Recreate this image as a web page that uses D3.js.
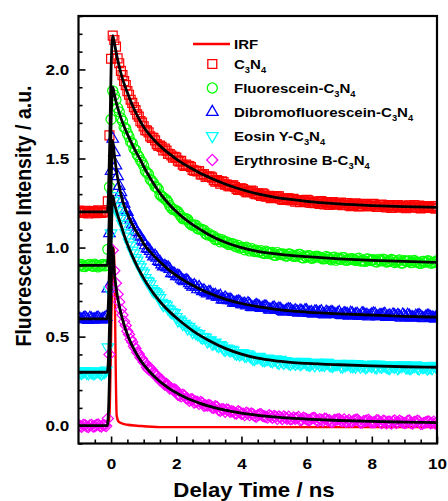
<!DOCTYPE html>
<html><head><meta charset="utf-8">
<script src="https://cdn.jsdelivr.net/npm/d3@7"></script>
<style>
body{margin:0;background:#fff}
svg{display:block}
text{font-family:"Liberation Sans",Arial,Helvetica,sans-serif;font-weight:bold;fill:#000}
</style>
</head><body>
<svg id="c" width="448" height="501"></svg>
<script>
// ---------- DATA ----------
const times = [-1,-0.95,-0.9,-0.85,-0.8,-0.75,-0.7,-0.65,-0.6,-0.55,-0.5,-0.45,-0.4,-0.35,-0.3,-0.25,-0.2,-0.15,-0.1,-0.05,
0,0.05,0.1,0.15,0.2,0.25,0.3,0.35,0.4,0.45,0.5,0.55,0.6,0.65,0.7,0.75,0.8,0.85,0.9,0.95,1,
1.05,1.1,1.15,1.2,1.25,1.3,1.35,1.4,1.45,1.5,
1.55,1.6,1.65,1.7,1.75,1.8,1.85,1.9,1.95,2,
2.05,2.1,2.15,2.2,2.25,2.3,2.35,2.4,2.45,2.5,
2.55,2.6,2.65,2.7,2.75,2.8,2.85,2.9,2.95,3,
3.05,3.1,3.15,3.2,3.25,3.3,3.35,3.4,3.45,3.5,
3.55,3.6,3.65,3.7,3.75,3.8,3.85,3.9,3.95,4,
4.05,4.1,4.15,4.2,4.25,4.3,4.35,4.4,4.45,4.5,
4.55,4.6,4.65,4.7,4.75,4.8,4.85,4.9,4.95,5,
5.05,5.1,5.15,5.2,5.25,5.3,5.35,5.4,5.45,5.5,
5.55,5.6,5.65,5.7,5.75,5.8,5.85,5.9,5.95,6,
6.05,6.1,6.15,6.2,6.25,6.3,6.35,6.4,6.45,6.5,
6.55,6.6,6.65,6.7,6.75,6.8,6.85,6.9,6.95,7,
7.05,7.1,7.15,7.2,7.25,7.3,7.35,7.4,7.45,7.5,
7.55,7.6,7.65,7.7,7.75,7.8,7.85,7.9,7.95,8,
8.05,8.1,8.15,8.2,8.25,8.3,8.35,8.4,8.45,8.5,
8.55,8.6,8.65,8.7,8.75,8.8,8.85,8.9,8.95,9,
9.05,9.1,9.15,9.2,9.25,9.3,9.35,9.4,9.45,9.5,
9.55,9.6,9.65,9.7,9.75,9.8,9.85,9.9,9.95,10];

const dataC3N4 = [1.207,1.201,1.196,1.195,1.203,1.206,1.192,1.197,1.205,1.203,1.199,1.193,1.209,1.204,1.194,1.199,1.202,1.198,1.26,1.63,
2.06,2.19,2.165,2.128,2.062,2.035,1.992,1.968,1.935,1.912,1.878,1.858,1.83,1.812,1.788,1.772,1.748,1.735,1.71,1.701,1.68,
1.659,1.657,1.647,1.624,1.616,1.616,1.602,1.581,1.571,1.572,
1.565,1.545,1.556,1.544,1.526,1.525,1.517,1.504,1.509,1.505,
1.488,1.482,1.487,1.465,1.459,1.466,1.459,1.458,1.452,1.436,
1.432,1.431,1.427,1.430,1.410,1.410,1.412,1.396,1.398,1.398,
1.398,1.393,1.378,1.370,1.379,1.373,1.359,1.372,1.367,1.353,
1.354,1.344,1.344,1.349,1.349,1.340,1.329,1.324,1.331,1.333,
1.329,1.320,1.311,1.311,1.315,1.320,1.316,1.303,1.300,1.305,
1.297,1.290,1.304,1.299,1.285,1.289,1.291,1.277,1.280,1.286,
1.286,1.288,1.287,1.275,1.269,1.268,1.273,1.277,1.277,1.266,
1.266,1.274,1.257,1.266,1.266,1.255,1.267,1.263,1.259,1.268,
1.265,1.252,1.252,1.252,1.249,1.260,1.256,1.245,1.261,1.255,
1.242,1.249,1.250,1.239,1.252,1.255,1.245,1.245,1.241,1.248,
1.253,1.238,1.241,1.250,1.249,1.238,1.233,1.243,1.241,1.249,
1.243,1.231,1.233,1.236,1.245,1.243,1.237,1.232,1.233,1.242,
1.245,1.236,1.228,1.228,1.237,1.242,1.239,1.230,1.225,1.237,
1.234,1.223,1.238,1.235,1.230,1.238,1.226,1.225,1.235,1.230,
1.221,1.235,1.237,1.225,1.229,1.238,1.226,1.226,1.236,1.220,
1.222,1.233,1.230,1.229,1.226,1.222,1.232,1.233,1.219,1.225];

const dataFluorescein = [0.896,0.903,0.905,0.894,0.893,0.899,0.902,0.906,0.898,0.895,0.907,0.9,0.891,0.897,0.903,0.905,0.897,0.902,0.99,1.34,
1.72,1.88,1.855,1.83,1.784,1.762,1.728,1.71,1.675,1.668,1.64,1.622,1.594,1.585,1.556,1.548,1.522,1.51,1.49,1.478,1.46,
1.430,1.420,1.412,1.383,1.375,1.363,1.343,1.338,1.327,1.297,
1.288,1.283,1.273,1.268,1.255,1.235,1.222,1.214,1.212,1.207,
1.201,1.187,1.174,1.162,1.161,1.162,1.158,1.141,1.130,1.124,
1.126,1.126,1.107,1.103,1.105,1.099,1.098,1.078,1.072,1.078,
1.067,1.062,1.064,1.044,1.046,1.048,1.032,1.045,1.036,1.028,
1.032,1.017,1.019,1.022,1.021,1.007,1.004,1.012,0.997,1.001,
1.001,0.987,1.002,0.993,0.981,0.996,0.986,0.978,0.985,0.976,
0.976,0.982,0.970,0.966,0.980,0.974,0.966,0.968,0.973,0.957,
0.956,0.972,0.963,0.961,0.964,0.963,0.953,0.952,0.964,0.963,
0.955,0.951,0.950,0.955,0.962,0.961,0.944,0.942,0.952,0.947,
0.954,0.953,0.940,0.942,0.948,0.952,0.951,0.945,0.942,0.936,
0.938,0.950,0.945,0.937,0.931,0.943,0.946,0.929,0.938,0.940,
0.934,0.943,0.944,0.929,0.929,0.934,0.937,0.938,0.932,0.928,
0.937,0.940,0.924,0.928,0.925,0.922,0.937,0.935,0.927,0.930,
0.932,0.922,0.919,0.934,0.930,0.925,0.935,0.931,0.919,0.921,
0.925,0.933,0.929,0.916,0.920,0.925,0.931,0.913,0.913,0.927,
0.924,0.922,0.927,0.915,0.917,0.928,0.921,0.917,0.913,0.911,
0.923,0.923,0.918,0.925,0.925,0.913,0.913,0.917,0.920,0.926];

const dataDibromo = [0.604,0.598,0.596,0.603,0.607,0.599,0.593,0.605,0.601,0.596,0.597,0.603,0.606,0.598,0.594,0.6,0.602,0.61,0.77,1.08,
1.43,1.61,1.535,1.46,1.4,1.345,1.31,1.27,1.245,1.212,1.2,1.168,1.155,1.13,1.118,1.095,1.086,1.066,1.06,1.04,1.032,
1.012,0.994,0.992,0.980,0.965,0.949,0.954,0.943,0.924,0.919,
0.905,0.893,0.897,0.889,0.888,0.879,0.856,0.855,0.852,0.838,
0.842,0.837,0.824,0.816,0.810,0.816,0.812,0.799,0.790,0.780,
0.789,0.780,0.765,0.778,0.765,0.755,0.759,0.749,0.742,0.750,
0.748,0.730,0.733,0.734,0.723,0.723,0.729,0.708,0.707,0.719,
0.710,0.704,0.708,0.703,0.690,0.689,0.694,0.697,0.694,0.682,
0.682,0.684,0.675,0.687,0.680,0.666,0.664,0.669,0.677,0.673,
0.667,0.660,0.661,0.668,0.669,0.660,0.652,0.650,0.659,0.663,
0.653,0.650,0.657,0.655,0.643,0.640,0.643,0.650,0.653,0.652,
0.643,0.638,0.647,0.642,0.634,0.646,0.643,0.635,0.648,0.647,
0.632,0.635,0.637,0.628,0.641,0.641,0.632,0.636,0.642,0.628,
0.624,0.639,0.634,0.630,0.637,0.636,0.626,0.625,0.630,0.637,
0.621,0.620,0.631,0.629,0.626,0.617,0.633,0.630,0.620,0.625,
0.627,0.618,0.615,0.631,0.629,0.619,0.622,0.613,0.618,0.625,
0.629,0.627,0.614,0.614,0.621,0.619,0.624,0.627,0.610,0.615,
0.618,0.610,0.624,0.619,0.612,0.621,0.613,0.606,0.624,0.615,
0.608,0.622,0.617,0.609,0.608,0.606,0.616,0.617,0.620,0.613,
0.604,0.603,0.611,0.617,0.616,0.609,0.607,0.604,0.600,0.618];

const dataEosin = [0.304,0.299,0.296,0.305,0.307,0.298,0.294,0.303,0.301,0.295,0.297,0.305,0.306,0.299,0.293,0.3,0.302,0.31,0.44,0.76,
1.08,1.29,1.262,1.228,1.205,1.18,1.165,1.132,1.115,1.082,1.062,1.03,1.012,0.984,0.968,0.942,0.928,0.904,0.89,0.867,0.856,
0.829,0.814,0.809,0.795,0.767,0.756,0.751,0.743,0.731,0.717,
0.691,0.677,0.684,0.675,0.657,0.648,0.637,0.635,0.633,0.610,
0.591,0.597,0.585,0.571,0.573,0.563,0.546,0.556,0.542,0.526,
0.534,0.520,0.514,0.515,0.500,0.494,0.498,0.494,0.474,0.479,
0.480,0.461,0.464,0.467,0.452,0.447,0.454,0.446,0.432,0.425,
0.434,0.430,0.423,0.427,0.422,0.408,0.404,0.408,0.400,0.407,
0.407,0.393,0.393,0.401,0.394,0.385,0.377,0.375,0.384,0.385,
0.387,0.378,0.369,0.368,0.372,0.377,0.374,0.366,0.363,0.371,
0.372,0.359,0.353,0.370,0.362,0.352,0.364,0.359,0.353,0.347,
0.356,0.359,0.347,0.354,0.357,0.346,0.351,0.359,0.358,0.347,
0.345,0.341,0.352,0.352,0.339,0.354,0.353,0.341,0.346,0.345,
0.342,0.354,0.353,0.342,0.338,0.336,0.345,0.345,0.347,0.348,
0.334,0.332,0.342,0.341,0.347,0.348,0.336,0.335,0.337,0.332,
0.347,0.343,0.332,0.339,0.340,0.329,0.332,0.343,0.340,0.335,
0.344,0.330,0.328,0.344,0.335,0.331,0.340,0.338,0.331,0.326,
0.324,0.339,0.335,0.332,0.337,0.323,0.331,0.335,0.339,0.339,
0.327,0.329,0.325,0.324,0.333,0.335,0.339,0.326,0.322,0.336,
0.330,0.330,0.333,0.321,0.327,0.330,0.323,0.337,0.336,0.323];

const dataErythrosine = [0.004,-0.002,-0.006,0.005,0.003,-0.004,-0.008,0.002,0.005,-0.005,-0.003,0.004,0.007,-0.001,-0.005,0.003,0.002,-0.002,0.04,0.40,
0.78,0.985,0.87,0.80,0.738,0.695,0.652,0.622,0.585,0.563,0.53,0.512,0.485,0.47,0.446,0.434,0.412,0.403,0.383,0.375,0.357,
0.351,0.328,0.316,0.323,0.313,0.293,0.288,0.283,0.268,0.254,
0.257,0.244,0.229,0.235,0.225,0.209,0.209,0.204,0.204,0.198,
0.173,0.171,0.165,0.174,0.168,0.155,0.151,0.140,0.149,0.147,
0.130,0.136,0.134,0.122,0.133,0.128,0.112,0.114,0.113,0.116,
0.113,0.101,0.100,0.109,0.106,0.088,0.084,0.093,0.091,0.078,
0.091,0.088,0.078,0.081,0.079,0.070,0.068,0.081,0.076,0.067,
0.068,0.059,0.073,0.069,0.059,0.069,0.064,0.055,0.050,0.058,
0.063,0.065,0.055,0.052,0.050,0.045,0.059,0.053,0.044,0.055,
0.050,0.038,0.052,0.047,0.037,0.052,0.045,0.039,0.050,0.036,
0.038,0.046,0.039,0.042,0.049,0.031,0.033,0.045,0.041,0.036,
0.032,0.031,0.040,0.044,0.043,0.031,0.027,0.037,0.033,0.026,
0.039,0.038,0.029,0.031,0.022,0.021,0.032,0.033,0.035,0.037,
0.028,0.026,0.035,0.022,0.024,0.032,0.021,0.023,0.030,0.033,
0.035,0.027,0.018,0.017,0.026,0.027,0.029,0.033,0.022,0.019,
0.019,0.020,0.031,0.029,0.020,0.015,0.028,0.026,0.013,0.022,
0.022,0.012,0.024,0.029,0.015,0.020,0.028,0.023,0.019,0.014,
0.016,0.027,0.029,0.015,0.012,0.021,0.021,0.028,0.024,0.010,
0.010,0.016,0.019,0.023,0.024,0.013,0.016,0.023,0.012,0.018];

// fitted curves (black)
const fitTimes = [-1,-0.12,-0.08,-0.04,0,0.05,0.1,0.15,0.2,0.3,0.4,0.5,0.6,0.7,0.8,0.9,1.0,1.2,1.4,1.6,1.8,2.0,2.25,2.5,2.75,3.0,3.5,4.0,4.5,5.0,5.5,6.0,7,8,9,10];
const fitC3N4 = [1.2,1.2,1.3,1.6,2.0,2.19,2.15,2.10,2.055,1.98,1.92,1.87,1.822,1.78,1.742,1.708,1.677,1.628,1.588,1.554,1.524,1.497,1.467,1.441,1.416,1.395,1.357,1.326,1.301,1.283,1.27,1.259,1.245,1.236,1.23,1.226];
const fitFluorescein = [0.9,0.9,1.0,1.3,1.7,1.9,1.86,1.82,1.785,1.728,1.68,1.637,1.597,1.56,1.525,1.492,1.455,1.39,1.332,1.282,1.239,1.202,1.162,1.129,1.10,1.072,1.03,1.0,0.979,0.966,0.956,0.949,0.937,0.928,0.922,0.917];
const fitDibromo = [0.6,0.6,0.7,0.95,1.35,1.6,1.52,1.45,1.39,1.30,1.235,1.19,1.148,1.113,1.082,1.055,1.022,0.976,0.937,0.902,0.871,0.844,0.814,0.788,0.764,0.744,0.711,0.686,0.668,0.655,0.645,0.638,0.628,0.621,0.614,0.609];
const fitEosin = [0.3,0.3,0.38,0.62,1.0,1.29,1.25,1.215,1.183,1.128,1.07,1.02,0.975,0.934,0.895,0.86,0.827,0.769,0.719,0.676,0.639,0.606,0.568,0.534,0.504,0.478,0.434,0.402,0.379,0.365,0.356,0.35,0.342,0.336,0.331,0.328];
const fitErythrosine = [0,0,0.08,0.35,0.75,1.0,0.86,0.78,0.72,0.632,0.566,0.512,0.468,0.43,0.397,0.368,0.343,0.30,0.264,0.233,0.207,0.185,0.161,0.141,0.124,0.11,0.087,0.07,0.058,0.049,0.042,0.037,0.029,0.024,0.02,0.017];

// instrument response function (red line)
const irfTimes = [-1,-0.08,-0.04,0,0.04,0.08,0.11,0.14,0.17,0.22,0.3,0.5,0.8,1.5,10];
const irfValues = [0,0,0.1,0.5,0.9,1.0,0.8,0.35,0.06,0.025,0.015,0.005,0,-0.008,-0.008];

const legendLabels = ["IRF","C_3N_4","Fluorescein-C_3N_4","Dibromofluorescein-C_3N_4","Eosin Y-C_3N_4","Erythrosine B-C_3N_4"];
const xTickLabels = [0,2,4,6,8,10];
const yTickLabels = [0.0,0.5,1.0,1.5,2.0];

// ---------- STYLE / LAYOUT ----------
const series = [
  {values:dataC3N4, fit:fitC3N4, color:"#ff0000", type:d3.symbolSquare, size:80, rot:0},
  {values:dataFluorescein, fit:fitFluorescein, color:"#00ff00", type:d3.symbolCircle, size:80, rot:0},
  {values:dataDibromo, fit:fitDibromo, color:"#0000ff", type:d3.symbolTriangle, size:58, rot:0},
  {values:dataEosin, fit:fitEosin, color:"#00ffff", type:d3.symbolTriangle, size:58, rot:180},
  {values:dataErythrosine, fit:fitErythrosine, color:"#ff00ff", type:d3.symbolSquare, size:62, rot:45}
];
const L=78.5, R=437, T=16, B=443.5;
const SX = 1.14; // horizontal stretch of the original raster
const x = d3.scaleLinear().domain([-1,10]).range([L,R]);
const y = d3.scaleLinear().domain([-0.1,2.3]).range([B,T]);

const svg = d3.select("#c");
svg.append("rect").attr("width",448).attr("height",501).attr("fill","#fff");
svg.append("defs").append("clipPath").attr("id","pc")
  .append("rect").attr("x",L).attr("y",T).attr("width",R-L).attr("height",B-T);
const plot = svg.append("g").attr("clip-path","url(#pc)");

const line = d3.line().x(d=>x(d[0])).y(d=>y(d[1])).curve(d3.curveMonotoneX);

// IRF
plot.append("path").datum(d3.zip(irfTimes, irfValues)).attr("d", line)
  .attr("fill","none").attr("stroke","#ff0000").attr("stroke-width",2.4);

// markers
series.forEach(s=>{
  const sym = d3.symbol().type(s.type).size(s.size)();
  plot.append("g").selectAll("path").data(d3.zip(times, s.values)).join("path")
    .attr("d", sym)
    .attr("transform", d=>`translate(${x(d[0])},${y(d[1])}) rotate(${s.rot})`)
    .attr("fill","none").attr("stroke", s.color).attr("stroke-width",1.2);
});

// fits
series.forEach(s=>{
  plot.append("path").datum(d3.zip(fitTimes, s.fit)).attr("d", line)
    .attr("fill","none").attr("stroke","#000").attr("stroke-width",2.8)
    .attr("stroke-linejoin","round");
});

// axes
const xMinor = d3.range(-0.5, 10, 0.5).filter(v=>!xTickLabels.includes(v));
const yMinor = d3.range(-0.1, 2.31, 0.1).map(v=>+v.toFixed(2)).filter(v=>!yTickLabels.some(t=>Math.abs(t-v)<1e-6));

const gx = svg.append("g").attr("transform",`translate(0,${B})`);
gx.call(d3.axisBottom(x).tickValues(xMinor).tickSize(-4).tickFormat(""));
const gx2 = svg.append("g").attr("transform",`translate(0,${B})`);
gx2.call(d3.axisBottom(x).tickValues(xTickLabels).tickSize(-7).tickPadding(15).tickFormat(d3.format("d")));
const gy = svg.append("g").attr("transform",`translate(${L},0)`);
gy.call(d3.axisLeft(y).tickValues(yMinor).tickSize(-4).tickFormat(""));
const gy2 = svg.append("g").attr("transform",`translate(${L},0)`);
gy2.call(d3.axisLeft(y).tickValues(yTickLabels).tickSize(-7).tickPadding(8).tickFormat(d3.format(".1f")));
[gx,gx2,gy,gy2].forEach(g=>{
  g.select(".domain").remove();
  g.selectAll("line").attr("stroke","#000").attr("stroke-width",1.6);
  g.selectAll("text").attr("font-size",15).attr("font-family",null).attr("fill","#000")
    .attr("transform",`scale(${SX},1)`);
});

// frame
svg.append("rect").attr("x",L).attr("y",T).attr("width",R-L).attr("height",B-T)
  .attr("fill","none").attr("stroke","#000").attr("stroke-width",2.2);

// titles
svg.append("text").attr("text-anchor","middle").attr("font-size",19.5)
  .attr("transform",`translate(254,497) scale(${SX},1)`).text("Delay Time / ns");
svg.append("text").attr("text-anchor","middle").attr("font-size",19.5)
  .attr("transform",`translate(31,216) scale(${SX},1) rotate(-90)`).text("Fluorescence Intensity / a.u.");

// legend
function richText(sel, str, fs){
  str.split(/(_\d)/).filter(p=>p.length).forEach(p=>{
    if(p[0]==="_"){
      sel.append("tspan").attr("font-size",fs*0.62).attr("dy",4).text(p.slice(1));
    } else {
      const t = sel.append("tspan").text(p);
      if(sel.selectAll("tspan").size()>1) t.attr("dy",-4);
    }
  });
}
const leg = svg.append("g");
const rowsY = [44,64,88,112,136,160];
const symX = 212.3, txtX = 234, fs = 13.2;
leg.append("line").attr("x1",193).attr("x2",230).attr("y1",rowsY[0]).attr("y2",rowsY[0])
  .attr("stroke","#ff0000").attr("stroke-width",2.4);
legendLabels.forEach((lab,i)=>{
  const t = leg.append("text").attr("font-size",fs)
    .attr("transform",`translate(${txtX},${rowsY[i]+4.8}) scale(${SX},1)`);
  richText(t, lab, fs);
  if(i>0){
    const s = series[i-1];
    leg.append("path").attr("d", d3.symbol().type(s.type).size(s.size)())
      .attr("transform",`translate(${symX},${rowsY[i]}) rotate(${s.rot})`)
      .attr("fill","none").attr("stroke",s.color).attr("stroke-width",1.3);
  }
});
</script>
</body></html>
